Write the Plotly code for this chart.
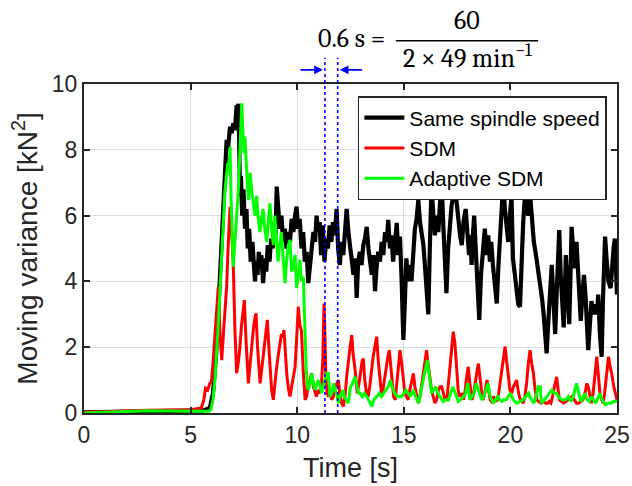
import plotly.graph_objects as go

# ---------------- data ----------------
t_same = [0.0, 1.0, 2.0, 3.0, 4.0, 5.0, 5.6, 5.9, 6.05, 6.2, 6.35, 6.45, 6.53, 6.6, 6.69, 6.75, 6.85, 6.92,
          7.0, 7.08, 7.16, 7.2, 7.24, 7.28, 7.32, 7.36, 7.42, 7.48, 7.55, 7.62, 7.68, 7.75, 7.82, 7.9, 7.96,
          8.02, 8.08, 8.14, 8.2, 8.26, 8.32, 8.4, 8.48, 8.55, 8.62, 8.7, 8.78, 8.85, 8.92, 8.98, 9.04, 9.1,
          9.18, 9.26, 9.34, 9.42, 9.5, 9.58, 9.66, 9.74, 9.82, 9.9, 9.97, 10.04, 10.12, 10.2, 10.28, 10.36,
          10.44, 10.52, 10.6, 10.68, 10.76, 10.84, 10.91, 10.98, 11.05, 11.12, 11.2, 11.28, 11.36, 11.44,
          11.52, 11.6, 11.68, 11.76, 11.85, 11.92, 12.0, 12.08, 12.16, 12.24, 12.32, 12.4, 12.48, 12.56,
          12.64, 12.72, 12.79, 12.86, 12.94, 13.02, 13.1, 13.18, 13.26, 13.34, 13.42, 13.5, 13.58, 13.65,
          13.72, 13.8, 13.88, 13.96, 14.04, 14.12, 14.2, 14.27, 14.35, 14.42, 14.5, 14.58, 14.67, 14.74,
          14.82, 14.9, 14.98, 15.05, 15.12, 15.2, 15.28, 15.36, 15.44, 15.52, 15.6, 15.68, 15.76, 15.84,
          15.92, 16.0, 16.08, 16.15, 16.22, 16.3, 16.38, 16.46, 16.54, 16.62, 16.7, 16.78, 16.86, 16.94,
          17.0, 17.08, 17.16, 17.24, 17.32, 17.4, 17.48, 17.56, 17.64, 17.72, 17.8, 17.9, 17.98, 18.06,
          18.12, 18.18, 18.24, 18.3, 18.38, 18.46, 18.54, 18.62, 18.7, 18.8, 18.88, 18.96, 19.04, 19.1,
          19.18, 19.26, 19.36, 19.44, 19.52, 19.6, 19.67, 19.74, 19.82, 19.9, 19.98, 20.05, 20.12, 20.2,
          20.28, 20.37, 20.45, 20.52, 20.6, 20.68, 20.76, 20.84, 20.92, 21.0, 21.1, 21.2, 21.3, 21.39,
          21.48, 21.56, 21.64, 21.7, 21.78, 21.86, 21.94, 22.02, 22.1, 22.18, 22.24, 22.29, 22.36, 22.44,
          22.5, 22.56, 22.6, 22.68, 22.76, 22.82, 22.87, 22.94, 23.02, 23.1, 23.18, 23.25, 23.3, 23.38,
          23.45, 23.52, 23.58, 23.65, 23.72, 23.8, 23.9, 23.98, 24.06, 24.12, 24.2, 24.28, 24.34, 24.44,
          24.52, 24.6, 24.7, 24.78, 24.84, 24.9, 24.96, 25.0]
v_same = [0.02, 0.03, 0.05, 0.06, 0.06, 0.07, 0.08, 0.15, 0.6, 1.8, 3.8, 5.5, 6.8, 7.6, 8.3, 8.0, 8.7, 8.5,
          8.8, 8.6, 9.36, 9.0, 9.4, 8.2, 6.6, 7.2, 6.0, 6.8, 5.6, 6.2, 5.0, 5.6, 4.6, 5.2, 4.3,
          4.0, 4.6, 4.2, 4.9, 4.4, 4.8, 3.95, 4.7, 4.3, 5.1, 4.6, 5.3, 5.0, 5.8, 5.4, 6.88, 6.1,
          5.6, 6.0, 5.2, 5.6, 5.0, 5.5, 5.2, 5.9, 5.5, 6.0, 6.27, 5.6, 5.9, 5.0, 5.5, 4.6,
          4.9, 3.95, 4.6, 5.0, 5.5, 5.2, 6.0, 5.5, 5.8, 4.8, 5.7, 4.6, 5.3, 5.0,
          5.7, 5.2, 5.8, 5.4, 6.2, 5.0, 4.5, 5.2, 4.8, 5.7, 6.2, 5.5, 5.0, 4.6,
          4.2, 4.7, 3.5, 4.6, 4.9, 4.5, 5.1, 5.3, 5.66, 5.0, 4.5, 4.2, 4.8, 3.7,
          4.4, 4.9, 4.6, 5.2, 4.8, 5.5, 5.2, 5.87, 5.0, 5.4, 4.6, 5.3, 5.78, 4.8,
          5.36, 4.0, 2.22, 3.4, 4.7, 4.0, 4.5, 4.0, 5.0, 5.6, 5.9, 6.47, 5.8, 5.4,
          5.1, 4.4, 3.8, 3.0, 5.0, 6.88, 6.1, 5.4, 6.0, 5.5, 6.4, 6.88, 5.6, 4.5,
          3.64, 5.0, 5.8, 6.3, 6.6, 7.08, 6.4, 5.8, 5.4, 5.1, 5.8, 6.2, 5.2, 4.8,
          5.4, 4.5, 5.4, 6.0, 4.9, 3.8, 2.83, 4.2, 5.0, 5.6, 4.8, 5.4, 4.6, 5.2,
          4.5, 3.9, 3.33, 4.5, 5.4, 6.3, 7.08, 6.2, 5.6, 5.2, 6.0, 6.6, 4.7, 4.2,
          3.8, 3.3, 3.23, 4.6, 5.8, 6.57, 6.2, 6.0, 6.67, 6.0, 5.2, 4.8, 4.3, 4.1,
          3.5, 3.0, 2.4, 1.81, 2.8, 3.6, 4.5, 3.4, 2.4, 3.8, 4.6, 5.56, 4.2, 3.2,
          2.6, 3.8, 4.8, 3.8, 2.7, 4.2, 5.66, 5.0, 4.4, 5.2, 4.3, 3.5, 2.8, 3.6,
          4.2, 3.6, 2.6, 1.91, 2.6, 3.4, 3.0, 3.3, 3.0, 3.6, 2.4, 1.71, 3.4, 5.36,
          4.6, 4.0, 3.8, 4.6, 5.0, 5.3, 4.4, 3.6]

t_sdm = [0.0, 1.0, 2.0, 3.0, 4.0, 5.0, 5.5, 5.62, 5.7, 5.8, 5.9, 5.98, 6.06, 6.14, 6.22, 6.3, 6.38, 6.46,
         6.55, 6.62, 6.69, 6.77, 6.85, 6.92, 7.0, 7.08, 7.16, 7.23, 7.3, 7.38, 7.45, 7.52, 7.6, 7.66, 7.71,
         7.78, 7.86, 7.95, 8.02, 8.07, 8.14, 8.2, 8.26, 8.33, 8.4, 8.48, 8.54, 8.6, 8.67, 8.74, 8.8, 8.88,
         8.95, 9.02, 9.1, 9.18, 9.26, 9.32, 9.38, 9.45, 9.52, 9.6, 9.66, 9.74, 9.82, 9.9, 9.97, 10.05,
         10.12, 10.2, 10.28, 10.37, 10.44, 10.52, 10.6, 10.68, 10.76, 10.84, 10.9, 10.98, 11.06, 11.14,
         11.2, 11.23, 11.26, 11.3, 11.34, 11.4, 11.48, 11.55, 11.62, 11.7, 11.78, 11.86, 11.93, 12.0,
         12.08, 12.16, 12.24, 12.32, 12.4, 12.48, 12.56, 12.62, 12.7, 12.76, 12.82, 12.9, 12.98, 13.05,
         13.1, 13.17, 13.25, 13.33, 13.4, 13.48, 13.56, 13.64, 13.73, 13.8, 13.88, 13.95, 14.02, 14.1,
         14.18, 14.25, 14.32, 14.38, 14.45, 14.52, 14.6, 14.68, 14.75, 14.82, 14.9, 14.98, 15.05, 15.12,
         15.2, 15.28, 15.36, 15.45, 15.52, 15.6, 15.68, 15.76, 15.84, 15.92, 16.0, 16.07, 16.14, 16.22,
         16.3, 16.38, 16.46, 16.54, 16.62, 16.7, 16.78, 16.86, 16.94, 17.02, 17.1, 17.18, 17.25, 17.32,
         17.4, 17.47, 17.55, 17.62, 17.7, 17.8, 17.88, 17.95, 18.02, 18.1, 18.2, 18.28, 18.36, 18.44,
         18.5, 18.58, 18.66, 18.72, 18.8, 18.9, 18.98, 19.05, 19.12, 19.2, 19.28, 19.36, 19.45, 19.52,
         19.6, 19.68, 19.75, 19.82, 19.9, 19.98, 20.06, 20.14, 20.22, 20.29, 20.36, 20.44, 20.5, 20.6,
         20.68, 20.76, 20.84, 20.92, 21.0, 21.08, 21.16, 21.24, 21.32, 21.45, 21.55, 21.65, 21.75, 21.82,
         21.9, 21.98, 22.06, 22.12, 22.17, 22.24, 22.3, 22.4, 22.5, 22.6, 22.7, 22.8, 22.9, 23.0, 23.1,
         23.2, 23.3, 23.4, 23.5, 23.58, 23.65, 23.72, 23.8, 23.88, 23.94, 24.0, 24.05, 24.12, 24.2, 24.28,
         24.35, 24.42, 24.5, 24.56, 24.6, 24.68, 24.75, 24.85, 24.92, 25.0]
v_sdm = [0.02, 0.03, 0.06, 0.08, 0.08, 0.1, 0.15, 0.4, 0.75, 0.7, 0.9, 0.97, 1.6, 2.32, 3.2, 3.84, 2.4, 1.61,
         2.5, 3.1, 3.84, 5.2, 6.27, 5.6, 4.55, 2.5, 1.21, 1.5, 1.9, 2.6, 3.0, 3.43, 2.2, 1.3, 0.9,
         1.4, 2.1, 2.6, 2.9, 3.03, 2.0, 1.3, 0.9, 1.3, 1.7, 2.3, 2.6, 2.83, 2.0, 1.2, 0.7, 0.4,
         0.9, 1.3, 1.7, 2.1, 2.4, 2.3, 2.52, 1.8, 1.1, 0.7, 0.5, 0.8, 1.1, 1.4, 2.22, 3.23,
         2.7, 2.5, 1.3, 0.4, 0.5, 0.9, 1.0, 1.21, 0.8, 0.6, 0.5, 0.7, 0.6, 0.9,
         1.6, 2.6, 3.33, 2.4, 1.2, 0.6, 0.5, 0.7, 0.4, 0.5, 0.8, 0.9, 1.0, 0.6,
         0.3, 0.2, 0.5, 1.1, 1.6, 2.0, 2.37, 1.8, 1.4, 0.9, 0.6, 0.9, 1.3, 1.6,
         1.65, 1.0, 0.6, 0.5, 0.8, 1.3, 1.7, 2.0, 2.32, 1.6, 1.0, 0.6, 0.7, 1.1,
         1.5, 1.7, 1.91, 1.5, 0.9, 0.5, 0.4, 0.9, 1.5, 1.91, 1.5, 0.9, 0.6, 0.5,
         0.4, 0.7, 0.9, 1.2, 0.8, 0.5, 0.3, 0.5, 0.9, 1.3, 1.6, 1.91, 1.5, 1.0,
         0.7, 0.5, 0.3, 0.4, 0.7, 0.8, 0.8, 0.6, 0.4, 0.4, 0.9, 1.4, 2.0, 2.47,
         2.1, 1.3, 0.7, 0.5, 0.6, 0.4, 0.7, 1.1, 1.41, 0.9, 0.4, 0.6, 1.0, 1.3,
         1.5, 1.0, 0.6, 0.4, 0.6, 1.0, 0.7, 0.4, 0.35, 0.5, 0.4, 0.35, 0.6, 0.9,
         1.3, 1.7, 2.02, 1.6, 1.1, 0.7, 0.6, 0.8, 0.9, 1.0, 0.7, 0.45, 0.4, 0.3,
         0.5, 0.9, 1.5, 1.91, 1.5, 1.2, 0.7, 0.4, 0.35, 0.3, 0.35, 0.3, 0.3, 0.35,
         0.3, 0.5, 0.8, 1.0, 1.1, 0.7, 0.4, 0.35, 0.3, 0.35, 0.4, 0.45, 0.5, 0.4, 0.3,
         0.3, 0.35, 0.4, 0.6, 0.9, 0.8, 0.5, 0.3, 0.6, 1.0, 1.4, 1.71, 1.2, 0.6, 0.4,
         0.3, 0.6, 1.2, 1.5, 1.71, 1.4, 1.2, 0.8, 0.6, 0.4]

t_adp = [0.0, 0.5, 1.0, 2.0, 3.0, 4.0, 5.0, 5.6, 5.85, 5.95, 6.05, 6.14, 6.22, 6.3, 6.38, 6.46, 6.54, 6.61,
         6.68, 6.74, 6.8, 6.85, 6.9, 6.95, 7.0, 7.06, 7.12, 7.18, 7.24, 7.3, 7.36, 7.4, 7.45, 7.5, 7.55,
         7.6, 7.66, 7.71, 7.76, 7.8, 7.86, 7.92, 7.96, 8.02, 8.06, 8.1, 8.16, 8.2, 8.25, 8.32, 8.4, 8.46,
         8.52, 8.57, 8.64, 8.72, 8.8, 8.88, 8.95, 9.02, 9.1, 9.18, 9.26, 9.34, 9.43, 9.5, 9.58, 9.66, 9.74,
         9.82, 9.9, 9.97, 10.05, 10.13, 10.2, 10.29, 10.33, 10.37, 10.42, 10.47, 10.52, 10.6, 10.68,
         10.76, 10.84, 10.92, 11.0, 11.08, 11.15, 11.22, 11.3, 11.38, 11.46, 11.54, 11.62, 11.7, 11.78,
         11.85, 11.93, 12.0, 12.08, 12.16, 12.2, 12.3, 12.4, 12.5, 12.6, 12.71, 12.8, 12.88, 12.95, 13.05,
         13.15, 13.25, 13.35, 13.49, 13.6, 13.73, 13.85, 13.95, 14.05, 14.15, 14.27, 14.37, 14.45, 14.57,
         14.68, 14.8, 14.9, 15.0, 15.1, 15.2, 15.3, 15.45, 15.55, 15.7, 15.8, 15.9, 16.0, 16.1, 16.2,
         16.3, 16.4, 16.5, 16.6, 16.7, 16.85, 16.95, 17.1, 17.2, 17.3, 17.42, 17.55, 17.65, 17.8, 17.9,
         18.0, 18.1, 18.2, 18.3, 18.4, 18.5, 18.65, 18.75, 18.85, 18.95, 19.05, 19.2, 19.3, 19.4, 19.5,
         19.6, 19.7, 19.8, 19.9, 20.0, 20.1, 20.2, 20.3, 20.45, 20.6, 20.72, 20.85, 20.95, 21.1, 21.2,
         21.3, 21.4, 21.45, 21.6, 21.7, 21.8, 21.94, 22.05, 22.17, 22.3, 22.45, 22.6, 22.72, 22.85, 22.95,
         23.1, 23.2, 23.3, 23.4, 23.5, 23.6, 23.7, 23.8, 23.9, 24.0, 24.1, 24.2, 24.3, 24.45, 24.55,
         24.7, 24.85, 25.0]
v_adp = [0.0, 0.01, 0.02, 0.06, 0.07, 0.06, 0.05, 0.05, 0.05, 0.1, 0.4, 1.0, 1.71, 2.7, 3.74, 4.8, 5.8, 6.78,
         7.2, 7.6, 7.3, 8.1, 6.5, 5.2, 4.45, 5.0, 5.8, 6.2, 6.78, 7.8, 8.8, 9.41, 8.6, 7.9, 8.4,
         7.6, 7.0, 6.47, 7.0, 7.3, 6.8, 6.4, 6.3, 6.0, 6.4, 6.6, 6.0, 5.7, 5.5, 5.9, 6.2, 5.7,
         5.4, 5.2, 5.8, 6.37, 5.6, 5.1, 6.0, 5.4, 4.6, 5.1, 5.5, 4.7, 3.94, 4.6, 5.1, 5.26, 4.3,
         4.5, 4.8, 3.8, 4.2, 4.65, 4.0, 4.14, 3.2, 2.22, 1.4, 0.9, 0.7, 0.9, 1.2,
         0.9, 0.7, 0.9, 1.0, 0.8, 0.6, 0.8, 1.0, 1.2, 1.2, 0.5, 0.6, 0.9, 0.7,
         0.6, 0.3, 0.5, 0.6, 0.7, 0.5, 0.4, 0.3, 0.8, 0.9, 1.1, 0.8, 0.6, 0.6, 0.5,
         0.6, 0.5, 0.4, 0.2, 0.4, 0.5, 0.6, 0.5, 0.6, 0.7, 0.8, 1.0, 0.8, 0.6,
         0.5, 0.5, 0.5, 0.6, 0.7, 0.6, 0.5, 0.7, 0.5, 0.3, 0.6, 0.9, 1.3, 1.61, 1.0,
         0.6, 0.7, 0.8, 0.6, 0.5, 0.35, 0.4, 0.4, 0.6, 0.8, 0.6, 0.35, 0.4, 0.5, 0.6,
         0.9, 0.4, 0.5, 0.6, 0.9, 0.7, 0.4, 0.5, 0.7, 0.9, 0.5, 0.3, 0.4, 0.5, 0.4,
         0.35, 0.4, 0.4, 0.5, 0.6, 0.45, 0.35, 0.3, 0.35, 0.4, 0.5, 0.6, 0.45, 0.3, 0.5,
         0.8, 0.8, 0.3, 0.4, 0.5, 0.6, 0.7, 0.6, 0.6, 0.45, 0.4, 0.4, 0.5, 0.35, 0.5,
         0.9, 0.6, 0.35, 0.45, 0.6, 0.4, 0.35, 0.5, 0.4, 0.3, 0.45, 0.6, 0.4, 0.25, 0.3,
         0.3, 0.35, 0.35]

series_names = ["Same spindle speed", "SDM", "Adaptive SDM"]
series_colors = ["#000000", "#ff0000", "#00ff00"]
series_widths = [4.2, 3.0, 3.0]
marker_times = [11.3, 11.9]   # the 0.6 s window

x_ticks = [0, 5, 10, 15, 20, 25]
y_ticks = [0, 2, 4, 6, 8, 10]

# ---------------- figure ----------------
AX = "#262626"
FONT = "Arial, 'Liberation Sans', sans-serif"
SERIF = "'Cambria Math', Cambria, 'Liberation Serif', serif"

fig = go.Figure()
for t, v, name, col, w in zip([t_same, t_sdm, t_adp], [v_same, v_sdm, v_adp],
                              series_names, series_colors, series_widths):
    fig.add_trace(go.Scatter(x=t, y=v, mode="lines", name=name,
                             line=dict(color=col, width=w)))

for tm in marker_times:
    fig.add_shape(type="line", xref="x", yref="paper", x0=tm, x1=tm, y0=0, y1=1.08,
                  line=dict(color="#0000ff", width=1.6, dash="dot"))

# arrows pointing at the two dotted lines
fig.add_annotation(x=marker_times[0], y=1.043, xref="x", yref="paper", text="",
                   showarrow=True, ax=-26, ay=0, arrowhead=2, arrowsize=1.1,
                   arrowwidth=1.6, arrowcolor="#0000ff", standoff=2)
fig.add_annotation(x=marker_times[1], y=1.043, xref="x", yref="paper", text="",
                   showarrow=True, ax=26, ay=0, arrowhead=2, arrowsize=1.1,
                   arrowwidth=1.6, arrowcolor="#0000ff", standoff=2)

# formula: 0.6 s = 60 / (2 x 49 min^-1)
eq_font = dict(family=SERIF, size=26, color="#000000")
fig.add_annotation(x=0.502, y=1.137, xref="paper", yref="paper", text="0.6 s =",
                   xanchor="center", yanchor="middle", showarrow=False, font=eq_font)
fig.add_annotation(x=0.7186, y=1.19, xref="paper", yref="paper", text="60",
                   xanchor="center", yanchor="middle", showarrow=False, font=eq_font)
fig.add_annotation(x=0.7186, y=1.082, xref="paper", yref="paper",
                   text="2 × 49 min<sup>−1</sup>",
                   xanchor="center", yanchor="middle", showarrow=False, font=eq_font)
fig.add_shape(type="line", xref="paper", yref="paper", x0=0.585, x1=0.852, y0=1.1316, y1=1.1316,
              line=dict(color="#000000", width=1.4))

axis_common = dict(showline=True, linecolor=AX, linewidth=2, mirror="ticks",
                   ticks="inside", ticklen=6, tickwidth=2, tickcolor=AX,
                   showgrid=True, gridcolor="#dedede", gridwidth=1, zeroline=False,
                   automargin=False,
                   tickfont=dict(family=FONT, size=23, color=AX))

fig.update_xaxes(range=[0, 25], tickvals=x_ticks,
                 title=dict(text="Time [s]", font=dict(family=FONT, size=27, color=AX), standoff=12),
                 **axis_common)
fig.update_yaxes(range=[0, 10], tickvals=y_ticks,
                 title=dict(text="Moving variance [kN<sup>2</sup>]",
                            font=dict(family=FONT, size=28, color=AX), standoff=6),
                 **axis_common)

fig.update_layout(
    width=632, height=486,
    margin=dict(l=84, r=15, t=84, b=73),
    paper_bgcolor="white", plot_bgcolor="white",
    legend=dict(x=0.981, y=0.9635, xanchor="right", yanchor="top",
                bgcolor="white", bordercolor=AX, borderwidth=1.5,
                font=dict(family=FONT, size=21, color="#000000"),
                tracegroupgap=0, itemwidth=40),
    showlegend=True,
)

fig.write_html("out.html")
